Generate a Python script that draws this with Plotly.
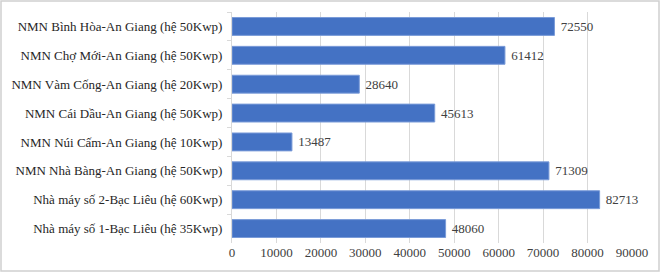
import plotly.graph_objects as go

categories = [
    "NMN Bình Hòa-An Giang (hệ 50Kwp)",
    "NMN Chợ Mới-An Giang (hệ 50Kwp)",
    "NMN Vàm Cống-An Giang (hệ 20Kwp)",
    "NMN Cái Dầu-An Giang (hệ 50Kwp)",
    "NMN Núi Cấm-An Giang (hệ 10Kwp)",
    "NMN Nhà Bàng-An Giang (hệ 50Kwp)",
    "Nhà máy số 2-Bạc Liêu (hệ 60Kwp)",
    "Nhà máy số 1-Bạc Liêu (hệ 35Kwp)",
]
values = [72550, 61412, 28640, 45613, 13487, 71309, 82713, 48060]
tick_vals = list(range(0, 90001, 10000))

W, H = 660, 272
ml, mr, mt, mb = 232, 28, 12, 29
pw = W - ml - mr
ph = H - mt - mb

font = "Liberation Serif, Times New Roman, serif"
fs = 13

fig = go.Figure(go.Bar(
    y=categories, x=values, orientation="h",
    marker=dict(color="#4472C4", line=dict(color="#7A9BD8", width=1)),
    text=["\u00a0" + str(v) for v in values], textposition="outside",
    textfont=dict(family=font, size=fs, color="#404040"),
    cliponaxis=False,
))

fig.update_layout(
    width=W, height=H,
    margin=dict(l=ml, r=mr, t=mt, b=mb),
    paper_bgcolor="white", plot_bgcolor="white",
    bargap=0.38,
    showlegend=False,
    font=dict(family=font, size=fs, color="#404040"),
    xaxis=dict(range=[0, 90000], tickvals=tick_vals, ticktext=[str(v) for v in tick_vals],
               showgrid=True, gridcolor="#D9D9D9", gridwidth=1, zeroline=False, automargin=False,
               showline=False, ticks="", tickfont=dict(family=font, size=fs, color="#404040")),
    yaxis=dict(autorange="reversed", showgrid=False, showline=True, linecolor="#D9D9D9",
               automargin=False,
               ticks="outside", ticklen=4, tickcolor="#D9D9D9", tickson="boundaries",
               tickfont=dict(family=font, size=fs, color="#262626"), ticklabelstandoff=6),
    shapes=[dict(type="rect", xref="paper", yref="paper",
                 x0=-(ml - 1) / pw, x1=1 + (mr - 1) / pw,
                 y0=-(mb - 1) / ph, y1=1 + (mt - 1) / ph,
                 line=dict(color="#D0D0D0", width=1.5), layer="below")],
)

fig.write_html("out.html")
